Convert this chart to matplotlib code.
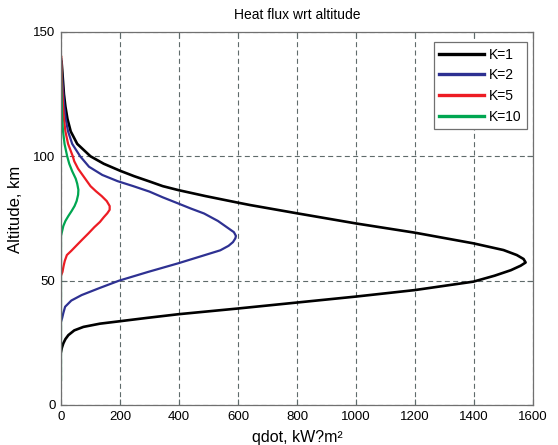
"""Heat flux vs altitude for several ballistic coefficients (K)."""

import matplotlib
matplotlib.use("Agg")
import matplotlib.pyplot as plt

plt.rcParams["font.family"] = ["Liberation Sans", "DejaVu Sans"]

# values: (altitude km, qdot kW/m^2)
alt_k1 = [21.4, 23, 24.8, 26.5, 28.1, 30, 31.4, 32.7, 33.6, 35, 36.5, 38.8, 41.2,
          43.6, 46.2, 49.6, 52, 54.2, 56, 57.3, 58.7, 60.3, 62.3, 65, 69.3,
          73, 77.1, 80.4, 81.4, 84, 86.4, 88, 89.8, 92, 94.2,
          97, 100, 105, 110, 115, 120, 125, 130, 135, 138]
q_k1 = [0, 3, 8, 15, 25, 45, 76, 132, 194, 290, 398, 600, 800,
        1000, 1199, 1398, 1470, 1525, 1558, 1575, 1568, 1545, 1500, 1398, 1199,
        1000, 799, 641, 598, 490, 398, 345, 302, 248, 200,
        145, 100, 55, 33, 22, 15, 10, 7, 4, 2]

alt_k2 = [33.5, 35, 37, 39.5, 42, 44.2, 47, 50, 53.5, 57, 60, 62.2, 64, 65.5, 67,
          68, 69.5, 71, 72.5, 74, 77, 79, 81, 83.5, 85.8, 88, 90, 92.5, 95.8, 100,
          105, 110, 115, 120, 125, 130, 135, 139]
q_k2 = [0, 4, 8, 14, 35, 70, 130, 197, 295, 398, 480, 540, 568, 583, 591,
        593, 586, 568, 550, 532, 485, 440, 398, 345, 300, 245, 192, 140, 95, 65,
        38, 24, 16, 11, 8, 5, 3, 1]

alt_k5 = [52, 53.5, 56, 58, 60.3, 62, 64.2, 66.5, 69, 71.5, 73.6, 75.5, 77.1, 78.5,
          80, 82, 84, 86, 88, 90, 92, 95, 98, 100, 105, 110, 115, 120, 125, 130,
          135, 140]
q_k5 = [0, 5, 9, 13, 20, 35, 53, 72, 93, 113, 132, 145, 157, 165,
        165, 155, 138, 118, 100, 88, 76, 58, 45, 40, 24, 15, 10, 7, 5, 3,
        2, 1]

alt_k10 = [10, 68, 69, 72, 74, 76, 78, 80, 82, 84.5, 86.5, 89, 91, 94, 97, 100,
           105, 110, 115, 120, 130, 140]
q_k10 = [0, 0, 2, 8, 15, 25, 36, 46, 53, 58, 59, 55, 50, 38, 28, 21,
         12, 7, 4, 3, 1, 0]

series = [
    ("K=1", q_k1, alt_k1, "#000000", 1.9),
    ("K=2", q_k2, alt_k2, "#2e3192", 1.6),
    ("K=5", q_k5, alt_k5, "#ed1c24", 1.6),
    ("K=10", q_k10, alt_k10, "#00a651", 1.6),
]

fig = plt.figure(figsize=(5.58, 4.45), dpi=100)
ax = fig.add_axes([0.1093, 0.0899, 0.8459, 0.8383])

for label, q, alt, color, lw in series:
    ax.plot(q, alt, color=color, linewidth=lw, label=label)

ax.set_xlim(0, 1600)
ax.set_ylim(0, 150)
ax.set_xticks(range(0, 1601, 200))
ax.set_yticks([0, 50, 100, 150])
ax.grid(True, color="#5f6b6b", linestyle=(0, (4.5, 3)), linewidth=0.8)
ax.tick_params(direction="in", length=4, labelsize=9.5, pad=4,
               top=True, right=True, color="#5f6b6b")
for s in ax.spines.values():
    s.set_color("#707070")
    s.set_linewidth(0.9)

ax.set_title("Heat flux wrt altitude", fontsize=10, pad=9)
ax.set_xlabel("qdot, kW?m²", fontsize=11.5)
ax.set_ylabel("Altitude, km", fontsize=12)
# Matlab-ish label placement (xlabel runs off the bottom edge)
ax.xaxis.set_label_coords(0.5, -0.066)
ax.yaxis.set_label_coords(-0.081, 0.525)

leg = ax.legend(loc="upper right", bbox_to_anchor=(0.9873, 0.9732),
                borderaxespad=0, fontsize=10, handlelength=3.2,
                handletextpad=0.36, labelspacing=0.48, borderpad=0.4,
                fancybox=False, framealpha=1, edgecolor="#707070")
for line in leg.get_lines():
    line.set_linewidth(2.4)
leg.get_frame().set_linewidth(0.9)

fig.savefig("out.png", dpi=100)
